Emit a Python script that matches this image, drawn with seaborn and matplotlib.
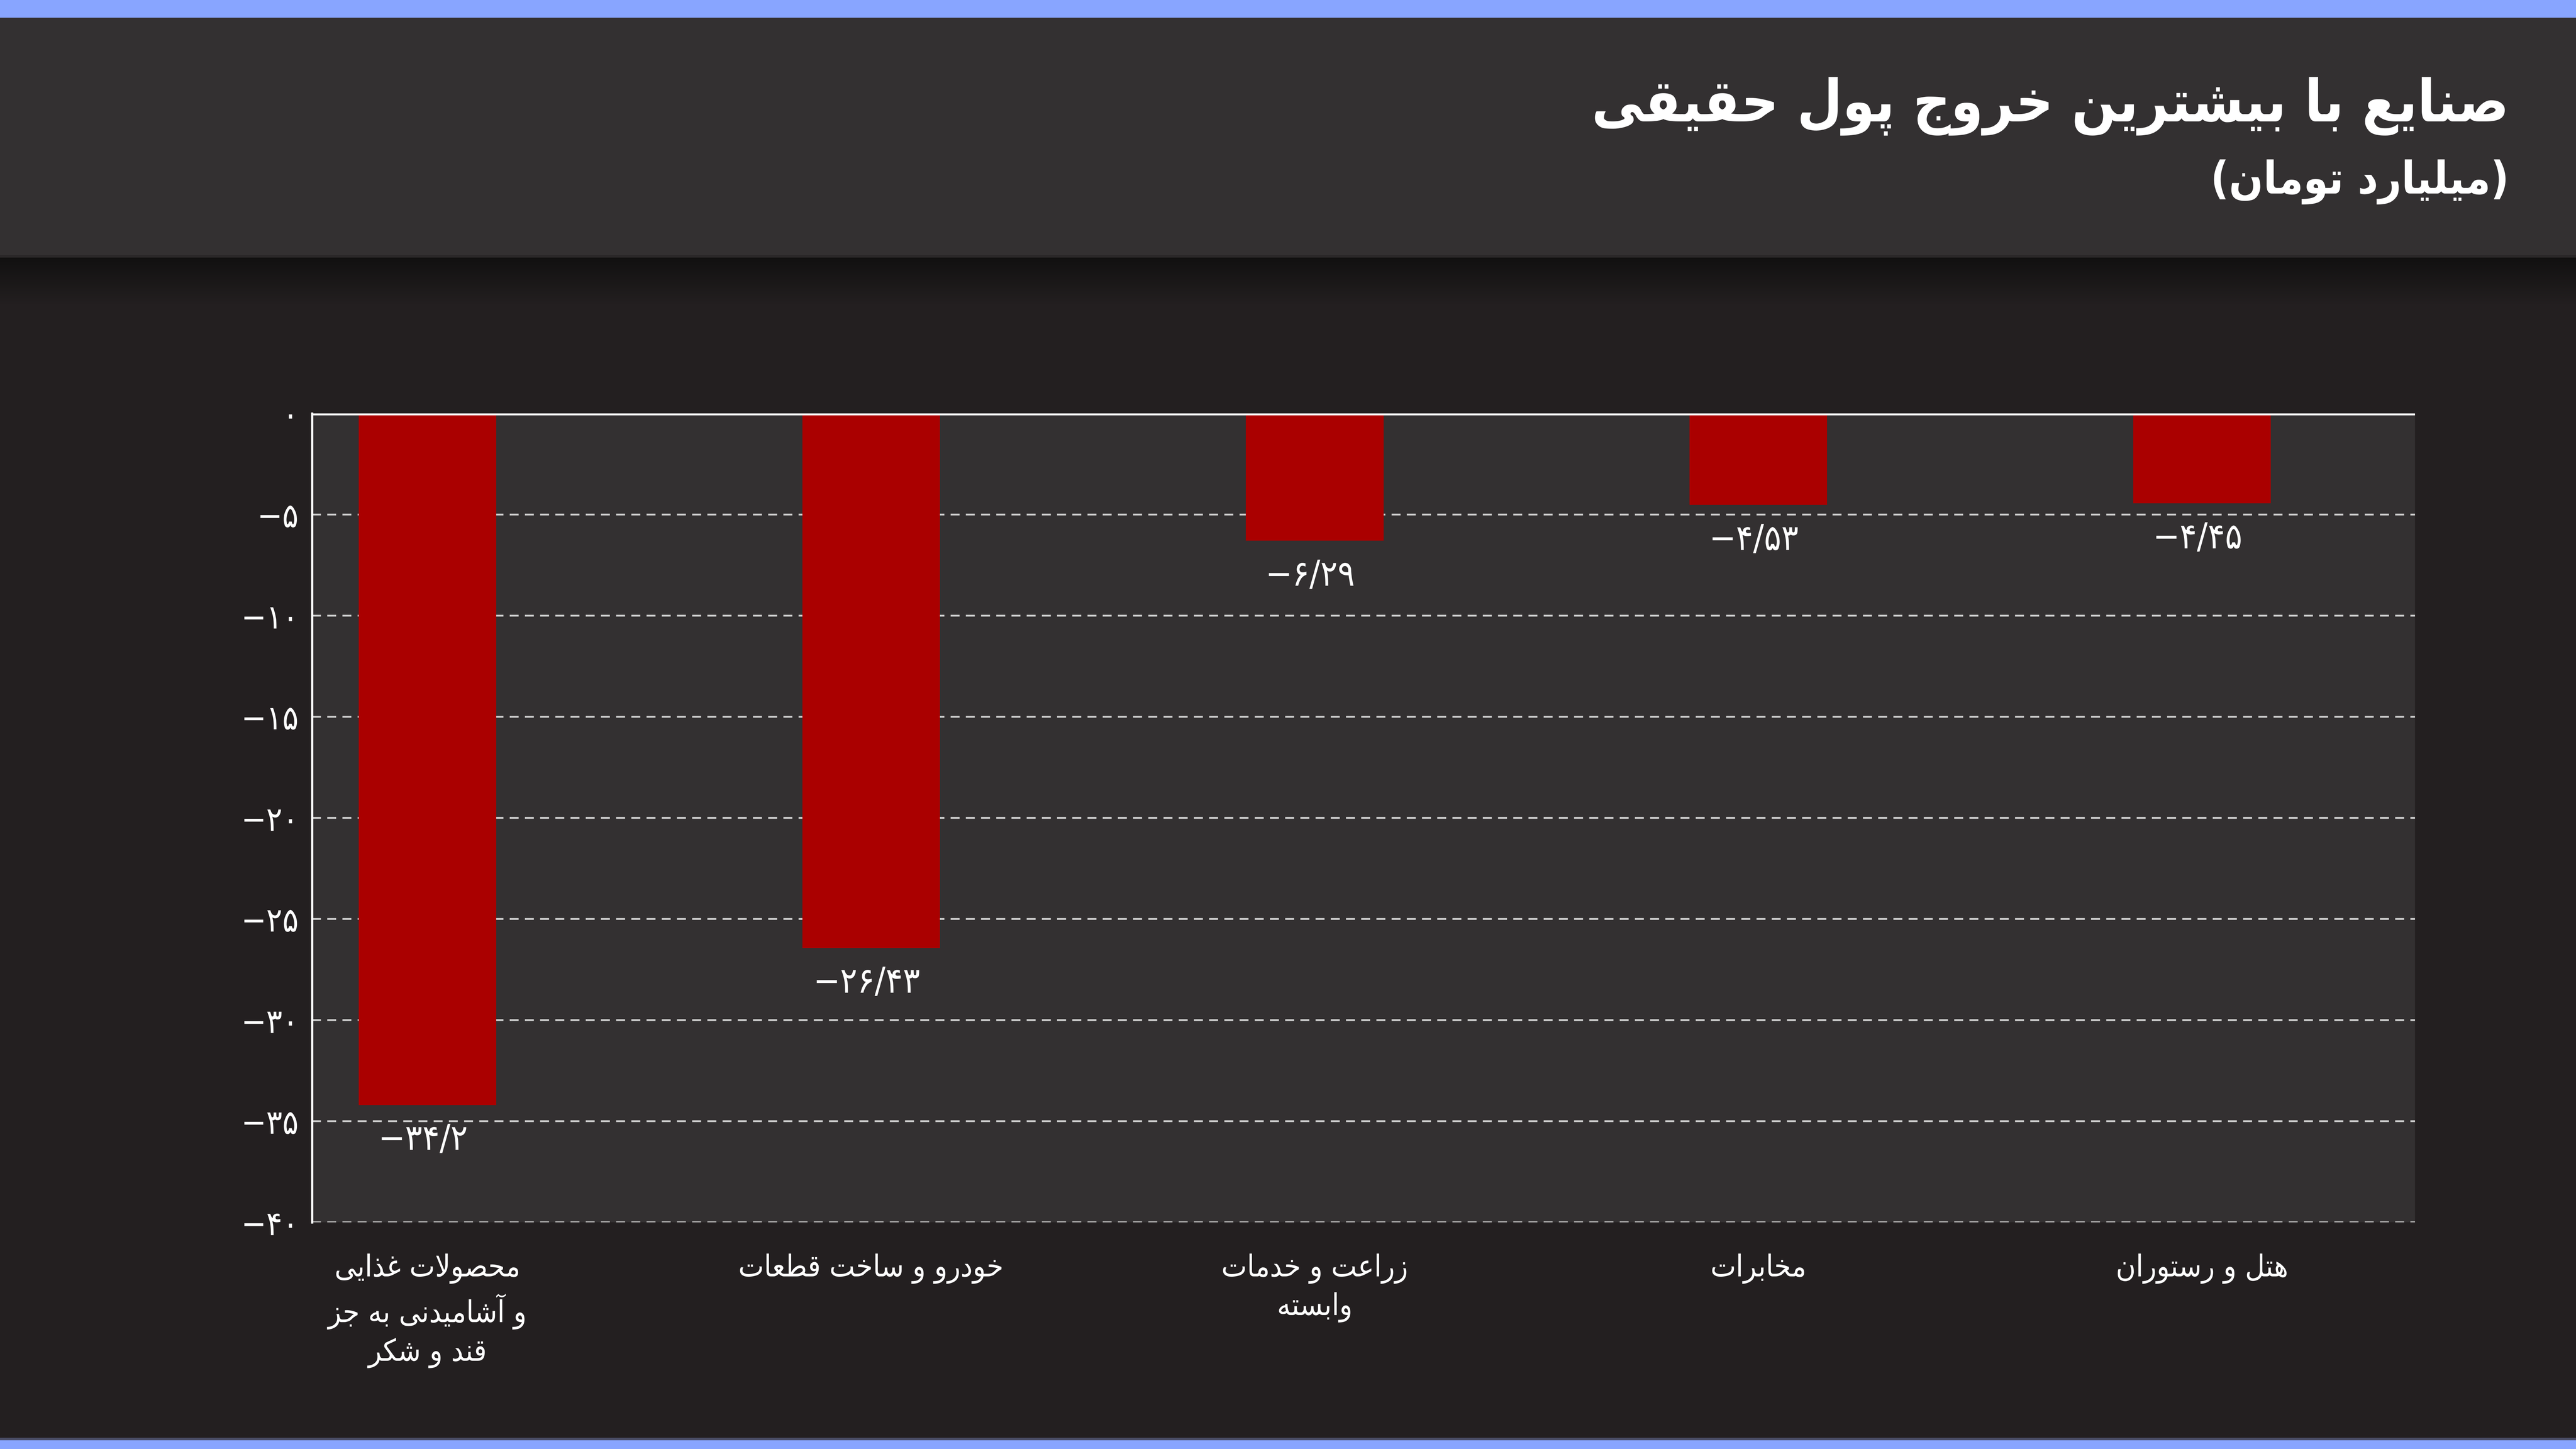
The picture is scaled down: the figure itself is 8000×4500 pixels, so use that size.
import numpy as np
import pandas as pd
import matplotlib
matplotlib.use("Agg")
import matplotlib.pyplot as plt
from matplotlib.patches import Rectangle
from matplotlib.ticker import FuncFormatter, FixedLocator
import seaborn as sns

# ---------------- data ----------------
TITLE = "صنایع با بیشترین خروج پول حقیقی"
SUBTITLE = "(میلیارد تومان)"
categories = [
    "محصولات غذایی\nو آشامیدنی به جز\nقند و شکر",
    "خودرو و ساخت قطعات",
    "زراعت و خدمات\nوابسته",
    "مخابرات",
    "هتل و رستوران",
]
values = [-34.2, -26.43, -6.29, -4.53, -4.45]
yticks = [0, -5, -10, -15, -20, -25, -30, -35, -40]

# ---------------- minimal Persian shaping ----------------
# char: (isolated, final, initial, medial) ; right-joining have only 2 forms
FORMS = {
    "ا": (0xFE8D, 0xFE8E), "آ": (0xFE81, 0xFE82),
    "ب": (0xFE8F, 0xFE90, 0xFE91, 0xFE92), "ت": (0xFE95, 0xFE96, 0xFE97, 0xFE98),
    "ث": (0xFE99, 0xFE9A, 0xFE9B, 0xFE9C), "ج": (0xFE9D, 0xFE9E, 0xFE9F, 0xFEA0),
    "ح": (0xFEA1, 0xFEA2, 0xFEA3, 0xFEA4), "خ": (0xFEA5, 0xFEA6, 0xFEA7, 0xFEA8),
    "د": (0xFEA9, 0xFEAA), "ذ": (0xFEAB, 0xFEAC), "ر": (0xFEAD, 0xFEAE), "ز": (0xFEAF, 0xFEB0),
    "س": (0xFEB1, 0xFEB2, 0xFEB3, 0xFEB4), "ش": (0xFEB5, 0xFEB6, 0xFEB7, 0xFEB8),
    "ص": (0xFEB9, 0xFEBA, 0xFEBB, 0xFEBC), "ض": (0xFEBD, 0xFEBE, 0xFEBF, 0xFEC0),
    "ط": (0xFEC1, 0xFEC2, 0xFEC3, 0xFEC4), "ظ": (0xFEC5, 0xFEC6, 0xFEC7, 0xFEC8),
    "ع": (0xFEC9, 0xFECA, 0xFECB, 0xFECC), "غ": (0xFECD, 0xFECE, 0xFECF, 0xFED0),
    "ف": (0xFED1, 0xFED2, 0xFED3, 0xFED4), "ق": (0xFED5, 0xFED6, 0xFED7, 0xFED8),
    "ل": (0xFEDD, 0xFEDE, 0xFEDF, 0xFEE0), "م": (0xFEE1, 0xFEE2, 0xFEE3, 0xFEE4),
    "ن": (0xFEE5, 0xFEE6, 0xFEE7, 0xFEE8), "ه": (0xFEE9, 0xFEEA, 0xFEEB, 0xFEEC),
    "و": (0xFEED, 0xFEEE), "ی": (0xFBFC, 0xFBFD, 0xFBFE, 0xFBFF),
    "پ": (0xFB56, 0xFB57, 0xFB58, 0xFB59), "چ": (0xFB7A, 0xFB7B, 0xFB7C, 0xFB7D),
    "ژ": (0xFB8A, 0xFB8B), "ک": (0xFB8E, 0xFB8F, 0xFB90, 0xFB91),
    "گ": (0xFB92, 0xFB93, 0xFB94, 0xFB95),
}
LAM_ALEF = {"ا": (0xFEFB, 0xFEFC), "آ": (0xFEF5, 0xFEF6)}


def _dual(c):
    return c in FORMS and len(FORMS[c]) == 4


def shape_line(s):
    out = []
    n = len(s)
    i = 0
    while i < n:
        c = s[i]
        if c not in FORMS:
            out.append(c)
            i += 1
            continue
        prev_join = i > 0 and _dual(s[i - 1])
        if c == "ل" and i + 1 < n and s[i + 1] in LAM_ALEF:
            iso, fin = LAM_ALEF[s[i + 1]]
            out.append(chr(fin if prev_join else iso))
            i += 2
            continue
        f = FORMS[c]
        next_join = _dual(c) and i + 1 < n and s[i + 1] in FORMS
        if len(f) == 2:
            out.append(chr(f[1] if prev_join else f[0]))
        else:
            if prev_join and next_join:
                out.append(chr(f[3]))
            elif prev_join:
                out.append(chr(f[1]))
            elif next_join:
                out.append(chr(f[2]))
            else:
                out.append(chr(f[0]))
        i += 1
    vis = "".join(out)[::-1]
    vis = vis.translate(str.maketrans("()", ")("))
    return vis


def rtl(s):
    return "\n".join(shape_line(line) for line in s.split("\n"))


FA_DIGITS = str.maketrans("0123456789.", "۰۱۲۳۴۵۶۷۸۹/")


def fa_num(v):
    txt = ("%g" % abs(v)).translate(FA_DIGITS)
    return ("\u2212" + txt) if v < 0 else txt


# ---------------- styling ----------------
BG = "#231f20"
HEADER = "#333031"
PLOT_BG = "#333031"
BLUE = "#88a5ff"
BAR = "#aa0000"

sns.set_theme(style="dark")
plt.rcParams["font.family"] = ["DejaVu Sans"]
plt.rcParams["font.stretch"] = "condensed"

fig = plt.figure(figsize=(16, 9), dpi=500, facecolor=BG)

# header band, shadow, top/bottom blue stripes
fig.patches.append(Rectangle((0, 1 - 792 / 4500), 1, 792 / 4500, transform=fig.transFigure,
                             facecolor=HEADER, edgecolor="none", zorder=0))
fig.patches.append(Rectangle((0, 1 - 800 / 4500), 1, 8 / 4500, transform=fig.transFigure,
                             facecolor="#2a2728", edgecolor="none", zorder=0))
grad = np.linspace(0, 1, 60)
c0 = np.array([0x11, 0x10, 0x10]) / 255
c1 = np.array([0x23, 0x1f, 0x20]) / 255
h = 150 / 4500 / len(grad)
for k, t in enumerate(grad):
    y = 1 - 800 / 4500 - (k + 1) * h
    fig.patches.append(Rectangle((0, y), 1, h * 1.05, transform=fig.transFigure,
                                 facecolor=tuple(c0 + (c1 - c0) * t), edgecolor="none", zorder=0))
fig.patches.append(Rectangle((0, 1 - 55 / 4500), 1, 55 / 4500, transform=fig.transFigure,
                             facecolor=BLUE, edgecolor="none", zorder=1))
fig.patches.append(Rectangle((0, 0), 1, 27 / 4500, transform=fig.transFigure,
                             facecolor=BLUE, edgecolor="none", zorder=1))
fig.patches.append(Rectangle((0, 27 / 4500), 1, 8 / 4500, transform=fig.transFigure,
                             facecolor="#4a4d66", edgecolor="none", zorder=1))

fig.text(0.974, 1 - 330 / 4500, rtl(TITLE), ha="right", va="center",
         color="white", fontsize=26, fontweight="bold")
fig.text(0.974, 1 - 565 / 4500, rtl(SUBTITLE), ha="right", va="center",
         color="white", fontsize=20, fontweight="bold")

# ---------------- chart ----------------
ax = fig.add_axes([969 / 8000, 1 - 3796 / 4500, (7500 - 969) / 8000, (3796 - 1284) / 4500])
ax.set_facecolor(PLOT_BG)

df = pd.DataFrame({"cat": categories, "val": values})
sns.barplot(data=df, x="cat", y="val", color=BAR, width=0.31, saturation=1,
            linewidth=0, edgecolor="none", ax=ax, zorder=3)

ax.set_xlim(-0.26, 4.48)
ax.set_ylim(-40, 0)
ax.yaxis.set_major_locator(FixedLocator(yticks))
ax.yaxis.set_major_formatter(FuncFormatter(lambda v, p: fa_num(v)))
ax.grid(axis="y", color="#d0d0d0", linewidth=0.8, linestyle=(0, (5, 3.5)), zorder=1)
ax.grid(axis="x", visible=False)
ax.axhline(0, color="white", linewidth=1.6, zorder=5)

for sp in ["top", "right", "bottom"]:
    ax.spines[sp].set_visible(False)
ax.spines["left"].set_color("white")
ax.spines["left"].set_linewidth(1.0)

ax.set_xticks(range(len(categories)))
ax.set_xticklabels([rtl(c) for c in categories], color="white", fontsize=13.5,
                   linespacing=1.35, va="top")
ax.tick_params(axis="x", length=0, pad=14)
ax.tick_params(axis="y", length=0, pad=6, labelcolor="white", labelsize=15)
ax.set_xlabel("")
ax.set_ylabel("")

for i, v in enumerate(values):
    ax.annotate(fa_num(v), xy=(i, v), xytext=(-2, -8), textcoords="offset points",
                ha="center", va="top", color="white", fontsize=16, zorder=6)

fig.savefig("out.png", dpi=500, facecolor=BG)
